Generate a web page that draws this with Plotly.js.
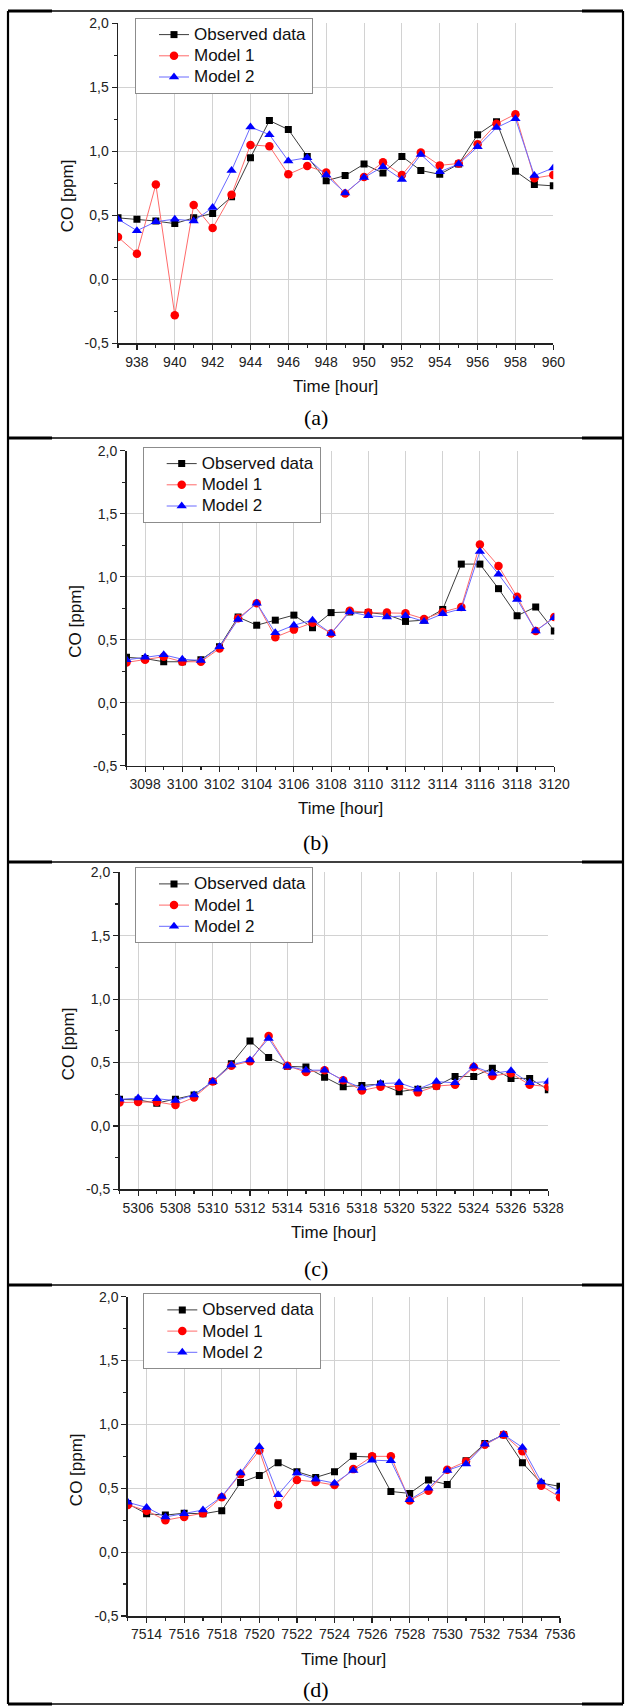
<!DOCTYPE html>
<html>
<head>
<meta charset="utf-8">
<script src="https://cdn.plot.ly/plotly-3.0.1.min.js"></script>
<style>html,body{margin:0;padding:0;background:#fff;}#chart{width:626px;height:1706px;}</style>
</head>
<body>
<div id="chart"></div>
<script>
// ---------------- data ----------------
const seriesNames = ["Observed data", "Model 1", "Model 2"];
const panelLabels = ["(a)", "(b)", "(c)", "(d)"];
const yTickVals = [-0.5, 0, 0.5, 1.0, 1.5, 2.0];
const yTickText = ["-0,5", "0,0", "0,5", "1,0", "1,5", "2,0"];

const hoursA = [937,938,939,940,941,942,943,944,945,946,947,948,949,950,951,952,953,954,955,956,957,958,959,960];
const obsA = [0.48,0.47,0.455,0.435,0.48,0.515,0.645,0.95,1.24,1.17,0.96,0.77,0.81,0.90,0.83,0.96,0.85,0.82,0.90,1.13,1.23,0.845,0.74,0.73];
const m1A  = [0.33,0.20,0.74,-0.28,0.58,0.40,0.66,1.05,1.04,0.82,0.885,0.835,0.67,0.80,0.915,0.815,0.99,0.89,0.905,1.055,1.215,1.29,0.79,0.815];
const m2A  = [0.47,0.38,0.45,0.47,0.455,0.56,0.85,1.19,1.13,0.925,0.95,0.815,0.675,0.795,0.88,0.78,0.975,0.84,0.90,1.035,1.185,1.255,0.81,0.87];

const hoursB = [3097,3098,3099,3100,3101,3102,3103,3104,3105,3106,3107,3108,3109,3110,3111,3112,3113,3114,3115,3116,3117,3118,3119,3120];
const obsB = [0.36,0.35,0.325,0.325,0.34,0.445,0.68,0.615,0.655,0.695,0.595,0.715,0.72,0.715,0.70,0.645,0.655,0.74,1.10,1.10,0.905,0.69,0.76,0.57];
const m1B  = [0.32,0.34,0.365,0.325,0.325,0.43,0.67,0.79,0.52,0.58,0.635,0.55,0.73,0.715,0.715,0.71,0.665,0.72,0.76,1.255,1.085,0.84,0.57,0.68];
const m2B  = [0.34,0.36,0.38,0.345,0.335,0.445,0.66,0.79,0.555,0.615,0.655,0.55,0.72,0.69,0.68,0.69,0.645,0.705,0.745,1.20,1.02,0.82,0.57,0.675];

const hoursC = [5305,5306,5307,5308,5309,5310,5311,5312,5313,5314,5315,5316,5317,5318,5319,5320,5321,5322,5323,5324,5325,5326,5327,5328];
const obsC = [0.21,0.205,0.18,0.21,0.245,0.35,0.49,0.67,0.54,0.47,0.465,0.385,0.31,0.32,0.33,0.27,0.29,0.315,0.39,0.39,0.455,0.375,0.375,0.285];
const m1C  = [0.185,0.19,0.19,0.165,0.225,0.35,0.475,0.51,0.71,0.475,0.425,0.44,0.36,0.28,0.31,0.31,0.265,0.315,0.325,0.465,0.395,0.415,0.325,0.31];
const m2C  = [0.21,0.22,0.215,0.20,0.245,0.35,0.48,0.52,0.69,0.47,0.44,0.44,0.36,0.30,0.335,0.34,0.29,0.35,0.34,0.47,0.415,0.435,0.34,0.35];

const hoursD = [7513,7514,7515,7516,7517,7518,7519,7520,7521,7522,7523,7524,7525,7526,7527,7528,7529,7530,7531,7532,7533,7534,7535,7536];
const obsD = [0.38,0.30,0.29,0.305,0.30,0.325,0.545,0.60,0.70,0.63,0.585,0.63,0.75,0.745,0.475,0.46,0.565,0.53,0.715,0.85,0.92,0.70,0.54,0.515];
const m1D  = [0.37,0.325,0.25,0.275,0.305,0.43,0.61,0.795,0.37,0.565,0.55,0.525,0.65,0.75,0.75,0.405,0.48,0.645,0.71,0.84,0.92,0.79,0.52,0.43];
const m2D  = [0.39,0.35,0.275,0.30,0.33,0.435,0.62,0.825,0.45,0.62,0.57,0.54,0.64,0.72,0.715,0.41,0.50,0.64,0.69,0.845,0.92,0.82,0.55,0.475];

const panelData = [
  {hours: hoursA, obs: obsA, m1: m1A, m2: m2A},
  {hours: hoursB, obs: obsB, m1: m1B, m2: m2B},
  {hours: hoursC, obs: obsC, m1: m1C, m2: m2C},
  {hours: hoursD, obs: obsD, m1: m1D, m2: m2D}
];

// ---------------- layout geometry (pixels) ----------------
const W = 626, H = 1706;
const geom = [
  {x0:118.0, x1:553.3, yTop:23.3,  yBot:343.3,  legX:135,   legY:18,    frameTop:11,   labelY:418},
  {x0:126.5, x1:554.3, yTop:450.7, yBot:765.7,  legX:142.7, legY:447,   frameTop:438,  labelY:843},
  {x0:119.5, x1:548.3, yTop:872.3, yBot:1189.4, legX:135,   legY:867.3, frameTop:862,  labelY:1268},
  {x0:127.8, x1:560.0, yTop:1296.7,yBot:1616.0, legX:143.3, legY:1293.3,frameTop:1285, labelY:1689}
];
const fx = p => p / W;
const fy = p => 1 - p / H;

const FONT = "Liberation Sans, Arial, sans-serif";
const styles = [
  {line:'#3c3c3c', marker:'#000000', symbol:'square', size:7},
  {line:'#ff6a6a', marker:'#ff0000', symbol:'circle', size:8.5},
  {line:'#6a6aff', marker:'#0000ff', symbol:'triangle-up', size:9}
];

const traces = [];
const layout = {
  width: W, height: H,
  margin: {l:0, r:0, t:0, b:0},
  paper_bgcolor: '#fff', plot_bgcolor: '#fff',
  font: {family: FONT, size: 14, color: '#111'},
  showlegend: true,
  annotations: [],
  shapes: []
};

panelData.forEach((pd, i) => {
  const g = geom[i];
  const sfx = i === 0 ? '' : String(i + 1);
  const xa = 'x' + sfx, ya = 'y' + sfx;
  const lg = 'legend' + sfx;
  const series = [pd.obs, pd.m1, pd.m2];
  series.forEach((vals, k) => {
    const s = styles[k];
    traces.push({
      type: 'scatter', mode: 'lines+markers',
      x: pd.hours, y: vals,
      name: '<span style="font-size:17px">' + seriesNames[k] + '</span>',
      xaxis: xa, yaxis: ya, legend: lg,
      line: {color: s.line, width: 1},
      marker: {color: s.marker, symbol: s.symbol, size: s.size, line: {width: 0}}
    });
  });
  const first = pd.hours[0], last = pd.hours[pd.hours.length - 1];
  layout['xaxis' + sfx] = {
    domain: [fx(g.x0), fx(g.x1)],
    anchor: ya,
    range: [first, last],
    tickmode: 'linear', tick0: first + 1, dtick: 2,
    ticks: 'outside', ticklen: 5, tickwidth: 1.2, tickcolor: '#222',
    minor: {tickmode: 'linear', tick0: first, dtick: 1, ticks: 'outside', ticklen: 3, tickwidth: 1.2, tickcolor: '#222', showgrid: false},
    showline: true, linecolor: '#222', linewidth: 1.5,
    showgrid: true, gridcolor: '#d2d2d2', gridwidth: 1,
    zeroline: false,
    tickfont: {family: FONT, size: 14, color: '#222'},
    fixedrange: true
  };
  layout['yaxis' + sfx] = {
    domain: [fy(g.yBot), fy(g.yTop)],
    anchor: xa,
    range: [-0.5, 2.0],
    tickmode: 'array', tickvals: yTickVals, ticktext: yTickText,
    ticks: 'outside', ticklen: 5, tickwidth: 1.2, tickcolor: '#222',
    minor: {tickmode: 'linear', tick0: -0.5, dtick: 0.25, ticks: 'outside', ticklen: 3, tickwidth: 1.2, tickcolor: '#222', showgrid: false},
    showline: true, linecolor: '#222', linewidth: 1.5,
    showgrid: true, gridcolor: '#d2d2d2', gridwidth: 1,
    zeroline: false,
    tickfont: {family: FONT, size: 14, color: '#222'},
    fixedrange: true
  };
  layout[lg] = {
    x: fx(g.legX), y: fy(g.legY), xanchor: 'left', yanchor: 'top',
    xref: 'paper', yref: 'paper',
    bgcolor: '#fff', bordercolor: '#8c8c8c', borderwidth: 1,
    font: {family: FONT, size: 14, color: '#111'},
    indentation: 18,
    tracegroupgap: 0
  };
  // axis titles & panel label
  layout.annotations.push({
    text: 'Time [hour]', xref: 'paper', yref: 'paper',
    x: fx((g.x0 + g.x1) / 2), y: fy(g.yBot + 43), xanchor: 'center', yanchor: 'middle',
    showarrow: false, font: {family: FONT, size: 17, color: '#111'}
  });
  layout.annotations.push({
    text: 'CO [ppm]', xref: 'paper', yref: 'paper', textangle: -90,
    x: fx(g.x0 - 51), y: fy((g.yTop + g.yBot) / 2 + 13), xanchor: 'center', yanchor: 'middle',
    showarrow: false, font: {family: FONT, size: 17, color: '#111'}
  });
  layout.annotations.push({
    text: panelLabels[i], xref: 'paper', yref: 'paper',
    x: fx(316), y: fy(g.labelY), xanchor: 'center', yanchor: 'middle',
    showarrow: false, font: {family: 'Liberation Serif, Times New Roman, serif', size: 22, color: '#000'}
  });
  // frame line on top of each panel
  layout.shapes.push({type:'line', xref:'paper', yref:'paper', x0:fx(8), x1:fx(623), y0:fy(g.frameTop), y1:fy(g.frameTop), line:{color:'#000', width:1.6}});
  layout.shapes.push({type:'line', xref:'paper', yref:'paper', x0:fx(8), x1:fx(52), y0:fy(g.frameTop), y1:fy(g.frameTop), line:{color:'#000', width:3}});
  layout.shapes.push({type:'line', xref:'paper', yref:'paper', x0:fx(582), x1:fx(623), y0:fy(g.frameTop), y1:fy(g.frameTop), line:{color:'#000', width:3}});
});
// bottom frame and sides
layout.shapes.push({type:'line', xref:'paper', yref:'paper', x0:fx(8), x1:fx(623), y0:fy(1704), y1:fy(1704), line:{color:'#000', width:1.6}});
layout.shapes.push({type:'line', xref:'paper', yref:'paper', x0:fx(8), x1:fx(52), y0:fy(1704), y1:fy(1704), line:{color:'#000', width:3}});
layout.shapes.push({type:'line', xref:'paper', yref:'paper', x0:fx(582), x1:fx(623), y0:fy(1704), y1:fy(1704), line:{color:'#000', width:3}});
layout.shapes.push({type:'line', xref:'paper', yref:'paper', x0:fx(8), x1:fx(8), y0:fy(11), y1:fy(1704), line:{color:'#000', width:2.2}});
layout.shapes.push({type:'line', xref:'paper', yref:'paper', x0:fx(623), x1:fx(623), y0:fy(11), y1:fy(1704), line:{color:'#000', width:2.2}});

Plotly.newPlot('chart', traces, layout, {displayModeBar: false, staticPlot: true});
</script>
</body>
</html>
